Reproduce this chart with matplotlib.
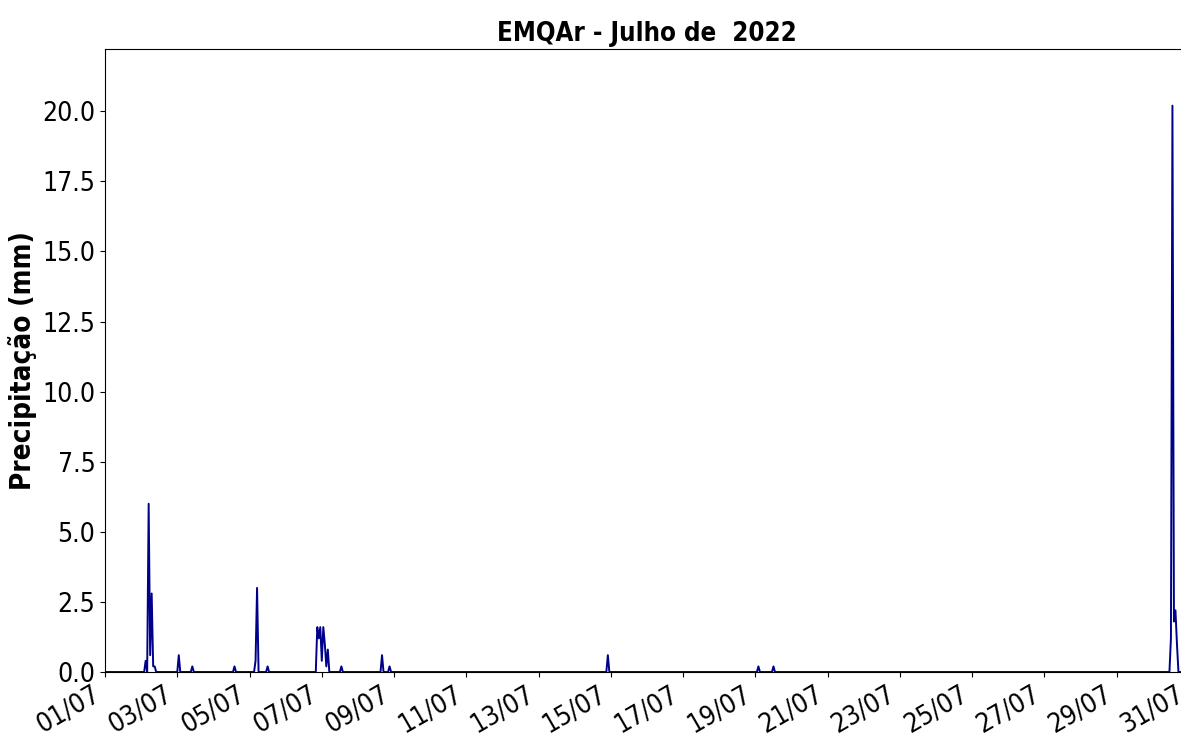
from matplotlib import pyplot as plt
from matplotlib import dates as mdates
import pandas as pd
import numpy as np

plt.rcParams['font.family'] = 'DejaVu Sans'
plt.rcParams['font.stretch'] = 'condensed'

# horas com chuva (resto do mes = 0)
horas_chuva = ['2022-07-02 03:00', '2022-07-02 05:00', '2022-07-02 06:00', '2022-07-02 07:00',
               '2022-07-02 08:00', '2022-07-02 09:00', '2022-07-03 01:00', '2022-07-03 10:00',
               '2022-07-04 14:00', '2022-07-05 04:00', '2022-07-05 05:00', '2022-07-05 12:00',
               '2022-07-06 21:00', '2022-07-06 22:00', '2022-07-06 23:00', '2022-07-07 00:00',
               '2022-07-07 01:00', '2022-07-07 02:00', '2022-07-07 03:00', '2022-07-07 04:00',
               '2022-07-07 13:00', '2022-07-08 16:00', '2022-07-08 21:00', '2022-07-14 22:00',
               '2022-07-19 02:00', '2022-07-19 12:00', '2022-07-30 12:00', '2022-07-30 13:00',
               '2022-07-30 14:00', '2022-07-30 15:00', '2022-07-30 16:00']
chuva_mm = [0.4, 6.0, 0.6, 2.8,
            0.2, 0.2, 0.6, 0.2,
            0.2, 0.4, 3.0, 0.2,
            1.6, 1.2, 1.6, 0.4,
            1.6, 1.0, 0.2, 0.8,
            0.2, 0.6, 0.2, 0.6,
            0.2, 0.2, 1.2, 20.2,
            1.8, 2.2, 1.0]

tempo = pd.date_range('2022-07-01 00:00', '2022-07-31 00:00', freq='h')
prec = pd.Series(np.zeros(len(tempo)), index=tempo)
prec[pd.to_datetime(horas_chuva)] = chuva_mm

fig = plt.figure(figsize=(11.81, 7.38), dpi=100)
# eixo passa um pouco da borda direita (como no original)
ax = fig.add_axes([105 / 1181, 66 / 738, 1084 / 1181, 623 / 738])
ax.plot(prec.index, prec.values, color='darkblue', linewidth=1.4)

ax.set_xlim(tempo[0], tempo[-1])
ax.set_ylim(0, prec.max() * 1.1)
ax.xaxis.set_major_locator(mdates.DayLocator(bymonthday=range(1, 32, 2)))
ax.xaxis.set_major_formatter(mdates.DateFormatter('%d/%m'))
plt.setp(ax.get_xticklabels(), rotation=30, ha='right')
ax.tick_params(labelsize=19)

ax.set_ylabel('Precipitação (mm)', fontsize=20, fontweight='bold')
ax.set_title('EMQAr - Julho de  2022', fontsize=18.5, fontweight='bold')

plt.savefig('out.png', dpi=100)
